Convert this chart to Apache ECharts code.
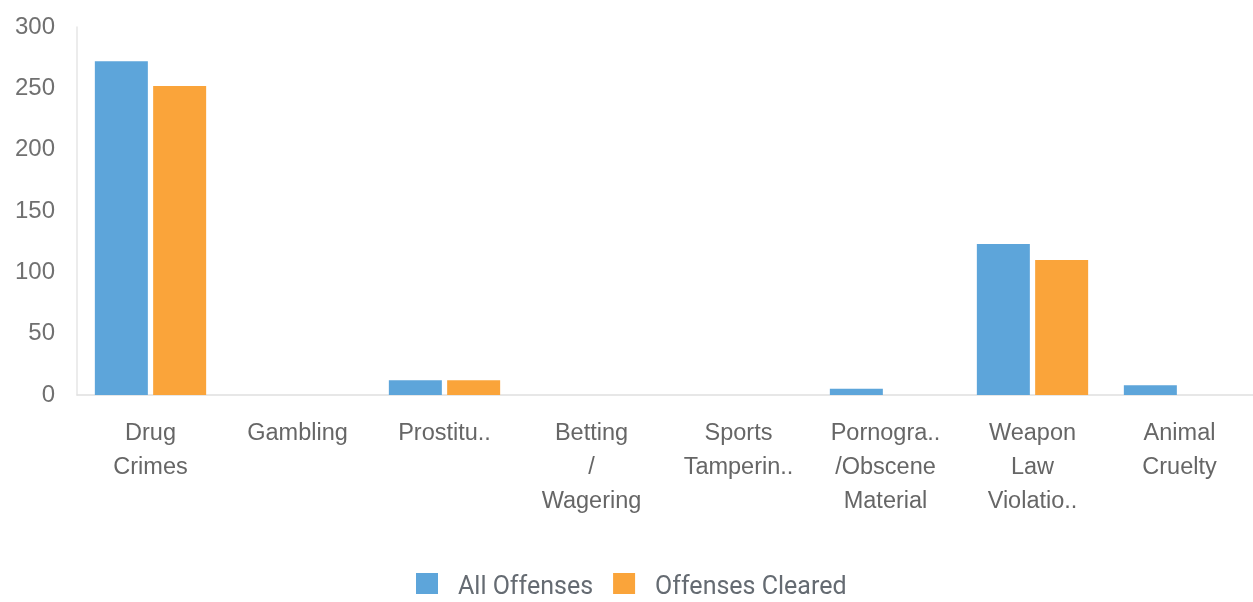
<!DOCTYPE html>
<html>
<head>
<meta charset="utf-8">
<script src="https://cdn.jsdelivr.net/npm/echarts@6/dist/echarts.min.js"></script>
<style>
  html, body { margin: 0; padding: 0; background: #fff; }
  #chart { width: 1253px; height: 602px; }
</style>
</head>
<body>
<div id="chart"></div>
<script>
// Offense categories (labels shown under each bar group)
const categories = [
  'Drug\nCrimes',
  'Gambling',
  'Prostitu..',
  'Betting\n/\nWagering',
  'Sports\nTamperin..',
  'Pornogra..\n/Obscene\nMaterial',
  'Weapon\nLaw\nViolatio..',
  'Animal\nCruelty'
];
const allOffenses = [272, 0, 12, 0, 0, 5, 123, 8];
const offensesCleared = [252, 0, 12, 0, 0, 0, 110, 0];
const yTicks = { min: 0, max: 300, interval: 50 };

const labelFont = "'Liberation Sans', Arial, sans-serif";

const chart = echarts.init(document.getElementById('chart'), null, { renderer: 'canvas' });
chart.setOption({
  animation: false,
  color: ['#5DA5DA', '#FAA43A'],
  grid: { left: 77, right: 0, top: 27, bottom: 207, containLabel: false },
  legend: {
    top: 573,
    left: 416,
    padding: 0,
    itemWidth: 22,
    itemHeight: 21,
    itemGap: 20,
    icon: 'rect',
    formatter: name => '{t|' + name + '}',
    textStyle: {
      fontFamily: 'Roboto',
      fontSize: 25,
      color: '#656b72',
      rich: {
        t: {
          fontFamily: 'Roboto',
          fontSize: 25,
          color: '#656b72',
          padding: [8, 0, 0, 15]
        }
      }
    },
    data: ['All Offenses', 'Offenses Cleared']
  },
  xAxis: {
    type: 'category',
    data: categories,
    axisLine: { show: true, lineStyle: { color: '#e0e0e0', width: 1.5 } },
    axisTick: { show: false },
    axisLabel: {
      interval: 0,
      margin: 22,
      fontFamily: labelFont,
      fontSize: 23.5,
      lineHeight: 34,
      color: '#666'
    }
  },
  yAxis: {
    type: 'value',
    min: yTicks.min,
    max: yTicks.max,
    interval: yTicks.interval,
    axisLine: { show: true, lineStyle: { color: '#e6e6e6', width: 1.5 } },
    axisTick: { show: false },
    splitLine: { show: false },
    axisLabel: {
      margin: 22,
      fontFamily: labelFont,
      fontSize: 24,
      color: '#707070'
    }
  },
  series: [
    {
      name: 'All Offenses',
      type: 'bar',
      data: allOffenses,
      barWidth: 53,
      barGap: '10%'
    },
    {
      name: 'Offenses Cleared',
      type: 'bar',
      data: offensesCleared,
      barWidth: 53,
      barGap: '10%'
    }
  ]
});
</script>
</body>
</html>
